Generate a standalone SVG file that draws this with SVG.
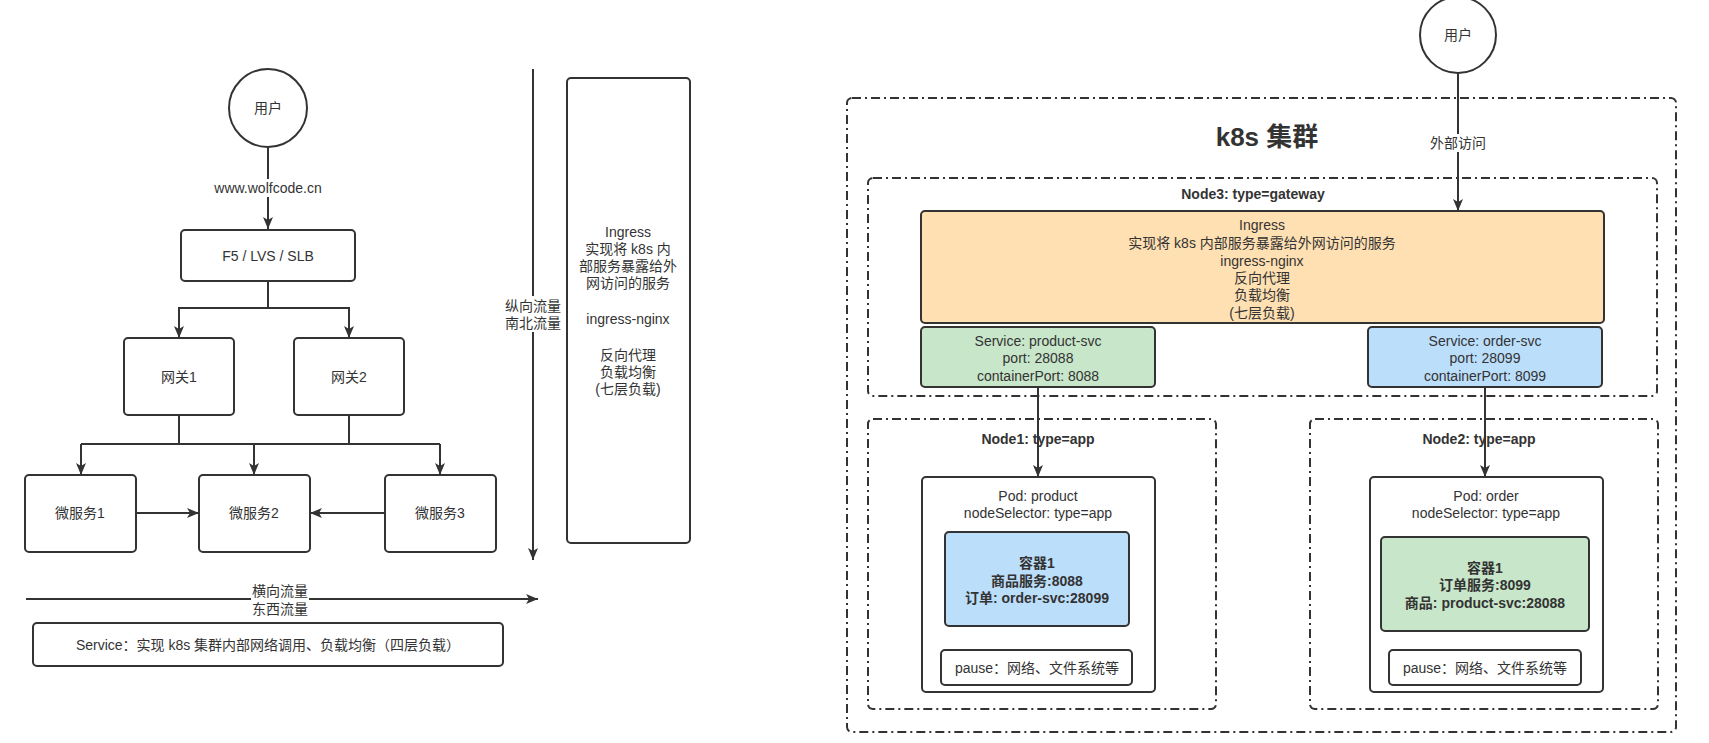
<svg xmlns="http://www.w3.org/2000/svg" width="1709" height="743" viewBox="0 0 1709 743">
<style>
text{font-family:"Liberation Sans","Noto Sans CJK SC",sans-serif;font-size:14px;fill:#333;text-anchor:middle;dominant-baseline:central}
.b{font-weight:bold}
.box{fill:#fff;stroke:#333;stroke-width:2}
.dash{fill:none;stroke:#333;stroke-width:2;stroke-dasharray:9 4 2 4}
.c{fill:none;stroke:#333;stroke-width:2}
.bg{fill:#fff;stroke:none}
</style>
<defs>
<marker id="arr" viewBox="0 0 12 10" refX="12" refY="5" markerWidth="12" markerHeight="10" markerUnits="userSpaceOnUse" orient="auto">
<path d="M0,0 L12,5 L0,10 L3,5 z" fill="#333"/>
</marker>
</defs>
<rect width="1709" height="743" fill="#fff"/>

<g id="connectors">
<path class="c" d="M268,147 V229" marker-end="url(#arr)"/>
<path class="c" d="M268,281 V308 H179 V338" marker-end="url(#arr)"/>
<path class="c" d="M268,308 H349 V338" marker-end="url(#arr)"/>
<path class="c" d="M179,415 V444 M349,415 V444 M81,444 H440"/>
<path class="c" d="M81,444 V475" marker-end="url(#arr)"/>
<path class="c" d="M254,444 V475" marker-end="url(#arr)"/>
<path class="c" d="M440,444 V475" marker-end="url(#arr)"/>
<path class="c" d="M136,513 H199" marker-end="url(#arr)"/>
<path class="c" d="M385,513 H310" marker-end="url(#arr)"/>
<path class="c" d="M26,599 H538" marker-end="url(#arr)"/>
<path class="c" d="M533,69 V560" marker-end="url(#arr)"/>
<path class="c" d="M1458,73 V211" marker-end="url(#arr)"/>
<path class="c" d="M1038,387 V477" marker-end="url(#arr)"/>
<path class="c" d="M1485,387 V477" marker-end="url(#arr)"/>
<rect class="bg" x="206" y="179" width="124" height="18"/>
<text x="268" y="188">www.wolfcode.cn</text>
<rect class="bg" x="251" y="582" width="58" height="36"/>
<text x="280" y="591">横向流量</text>
<text x="280" y="609">东西流量</text>
<rect class="bg" x="504" y="296" width="58" height="36"/>
<text x="533" y="306">纵向流量</text>
<text x="533" y="323">南北流量</text>
<rect class="bg" x="1428" y="134" width="60" height="18"/>
<text x="1458" y="143">外部访问</text>
</g>

<g id="user-left">
<circle class="box" cx="268" cy="108" r="39"/>
<text x="268" y="108">用户</text>
</g>
<g id="f5">
<rect class="box" x="181" y="230" width="174" height="51" rx="4"/>
<text x="268" y="256">F5 / LVS / SLB</text>
</g>
<g id="gw1">
<rect class="box" x="124" y="338" width="110" height="77" rx="4"/>
<text x="179" y="377">网关1</text>
</g>
<g id="gw2">
<rect class="box" x="294" y="338" width="110" height="77" rx="4"/>
<text x="349" y="377">网关2</text>
</g>
<g id="ms1">
<rect class="box" x="25" y="475" width="111" height="77" rx="4"/>
<text x="80" y="513">微服务1</text>
</g>
<g id="ms2">
<rect class="box" x="199" y="475" width="111" height="77" rx="4"/>
<text x="254" y="513">微服务2</text>
</g>
<g id="ms3">
<rect class="box" x="385" y="475" width="111" height="77" rx="4"/>
<text x="440" y="513">微服务3</text>
</g>
<g id="service-note">
<rect class="box" x="33" y="623" width="470" height="43" rx="4"/>
<text x="268" y="645">Service：实现 k8s 集群内部网络调用、负载均衡（四层负载）</text>
</g>
<g id="ingress-note">
<rect class="box" x="567" y="78" width="123" height="465" rx="4"/>
<text x="628" y="232">Ingress</text>
<text x="628" y="249">实现将 k8s 内</text>
<text x="628" y="266">部服务暴露给外</text>
<text x="628" y="283">网访问的服务</text>
<text x="628" y="319">ingress-nginx</text>
<text x="628" y="355">反向代理</text>
<text x="628" y="372">负载均衡</text>
<text x="628" y="389">(七层负载)</text>
</g>

<g id="cluster">
<rect class="dash" x="847" y="98" width="829" height="634" rx="5"/>
<text class="b" x="1267" y="137" style="font-size:26px">k8s 集群</text>
</g>
<g id="user-right">
<circle class="box" cx="1458" cy="35" r="38"/>
<text x="1458" y="35">用户</text>
</g>
<g id="node3">
<rect class="dash" x="868" y="178" width="789" height="218" rx="5"/>
<text class="b" x="1253" y="194">Node3: type=gateway</text>
</g>
<g id="ingress">
<rect class="box" x="921" y="211" width="683" height="112" rx="4" style="fill:#FFE0B2"/>
<text x="1262" y="225">Ingress</text>
<text x="1262" y="243">实现将 k8s 内部服务暴露给外网访问的服务</text>
<text x="1262" y="261">ingress-nginx</text>
<text x="1262" y="278">反向代理</text>
<text x="1262" y="295">负载均衡</text>
<text x="1262" y="313">(七层负载)</text>
</g>
<g id="svc-product">
<rect class="box" x="921" y="327" width="234" height="60" rx="4" style="fill:#C8E6C9"/>
<text x="1038" y="341">Service: product-svc</text>
<text x="1038" y="358">port: 28088</text>
<text x="1038" y="376">containerPort: 8088</text>
</g>
<g id="svc-order">
<rect class="box" x="1368" y="327" width="234" height="60" rx="4" style="fill:#BBDEFB"/>
<text x="1485" y="341">Service: order-svc</text>
<text x="1485" y="358">port: 28099</text>
<text x="1485" y="376">containerPort: 8099</text>
</g>
<g id="node1">
<rect class="dash" x="868" y="419" width="348" height="290" rx="5"/>
<text class="b" x="1038" y="439">Node1: type=app</text>
</g>
<g id="node2">
<rect class="dash" x="1310" y="419" width="348" height="290" rx="5"/>
<text class="b" x="1479" y="439">Node2: type=app</text>
</g>
<g id="pod-product">
<rect class="box" x="922" y="477" width="233" height="215" rx="4"/>
<text x="1038" y="496">Pod: product</text>
<text x="1038" y="513">nodeSelector: type=app</text>
</g>
<g id="pod-order">
<rect class="box" x="1370" y="477" width="233" height="215" rx="4"/>
<text x="1486" y="496">Pod: order</text>
<text x="1486" y="513">nodeSelector: type=app</text>
</g>
<g id="container-product">
<rect class="box" x="945" y="532" width="184" height="94" rx="4" style="fill:#BBDEFB"/>
<text class="b" x="1037" y="563">容器1</text>
<text class="b" x="1037" y="581">商品服务:8088</text>
<text class="b" x="1037" y="598">订单: order-svc:28099</text>
</g>
<g id="container-order">
<rect class="box" x="1381" y="537" width="208" height="94" rx="4" style="fill:#C8E6C9"/>
<text class="b" x="1485" y="568">容器1</text>
<text class="b" x="1485" y="585">订单服务:8099</text>
<text class="b" x="1485" y="603">商品: product-svc:28088</text>
</g>
<g id="pause-product">
<rect class="box" x="941" y="650" width="191" height="35" rx="4"/>
<text x="1037" y="668">pause：网络、文件系统等</text>
</g>
<g id="pause-order">
<rect class="box" x="1389" y="650" width="192" height="35" rx="4"/>
<text x="1485" y="668">pause：网络、文件系统等</text>
</g>
</svg>
